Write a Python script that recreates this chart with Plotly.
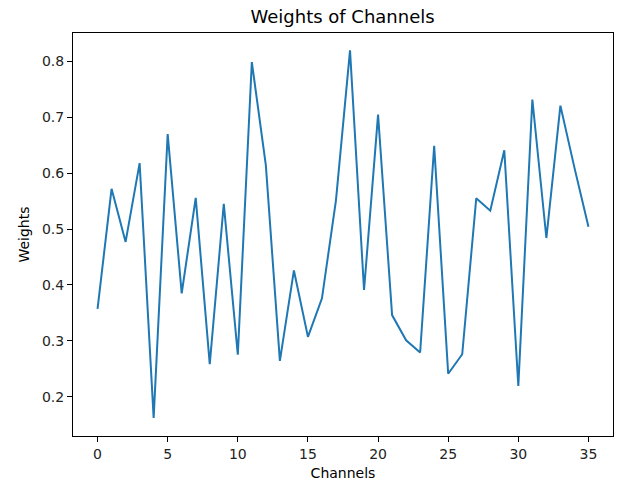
import plotly.graph_objects as go

channels = list(range(36))
weights = [0.357, 0.572, 0.477, 0.618, 0.162, 0.670, 0.385, 0.556, 0.258, 0.545,
           0.275, 0.799, 0.614, 0.264, 0.426, 0.307, 0.376, 0.552, 0.820, 0.391,
           0.705, 0.346, 0.301, 0.279, 0.649, 0.241, 0.276, 0.555, 0.533, 0.641,
           0.219, 0.732, 0.484, 0.721, 0.610, 0.504]
x_ticks = [0, 5, 10, 15, 20, 25, 30, 35]
y_ticks = [0.2, 0.3, 0.4, 0.5, 0.6, 0.7, 0.8]

fig = go.Figure(go.Scatter(x=channels, y=weights, mode="lines",
                           line=dict(color="#1f77b4", width=2)))

axis_common = dict(showline=True, mirror=True, linecolor="black", linewidth=1,
                   ticks="outside", ticklen=5, tickcolor="black", showgrid=False,
                   zeroline=False, automargin=False,
                   tickfont=dict(family="DejaVu Sans", size=14, color="#222"))

fig.update_layout(
    width=624, height=481,
    margin=dict(l=73, r=11, t=33, b=45),
    paper_bgcolor="white", plot_bgcolor="white",
    title=dict(text="Weights of Channels", x=0.549, xanchor="center", y=0.965, yanchor="middle",
               font=dict(family="DejaVu Sans", size=18, color="black")),
    xaxis=dict(range=[-1.75, 36.75], tickvals=x_ticks,
               title=dict(text="Channels", standoff=7, font=dict(family="DejaVu Sans", size=14, color="black")),
               **axis_common),
    yaxis=dict(range=[0.1296, 0.851], tickvals=y_ticks, tickformat=".1f",
               title=dict(text="Weights", standoff=9, font=dict(family="DejaVu Sans", size=14, color="black")),
               **axis_common),
    showlegend=False,
)

fig.write_html("out.html", config={"displayModeBar": False},
               post_script="document.body.style.margin='0';document.body.style.overflow='hidden';")
